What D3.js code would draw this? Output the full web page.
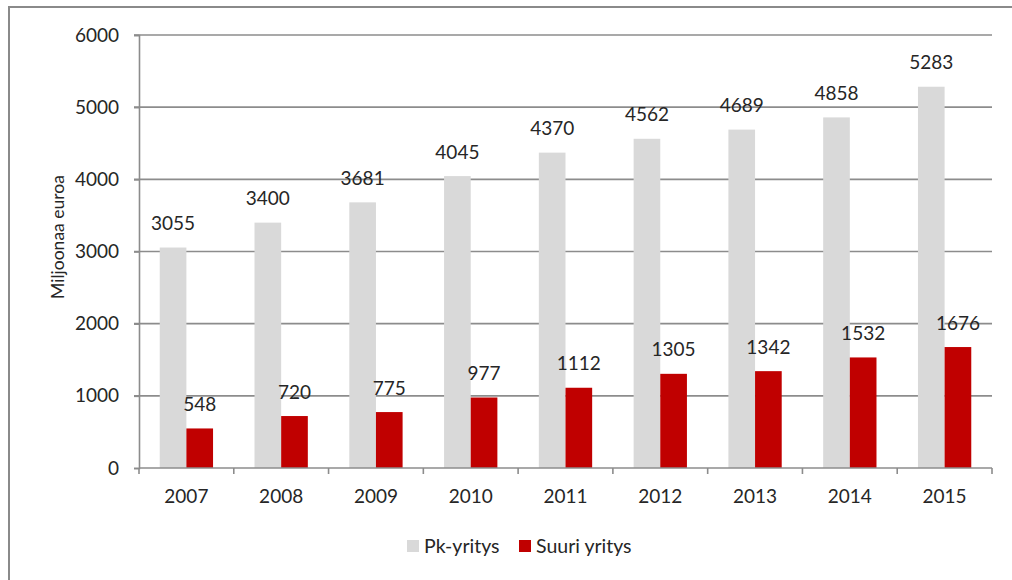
<!DOCTYPE html>
<html>
<head>
<meta charset="utf-8">
<script src="https://cdn.jsdelivr.net/npm/d3@7"></script>
<style>
  html, body { margin: 0; padding: 0; background: #fff; }
  svg text { font-family: Lato, "Open Sans", sans-serif; fill: #262626; }
</style>
</head>
<body>
<svg id="chart" width="1012" height="580"></svg>
<script>
const years = ["2007","2008","2009","2010","2011","2012","2013","2014","2015"];
const series = ["Pk-yritys", "Suuri yritys"];
const pkValues = [3055, 3400, 3681, 4045, 4370, 4562, 4689, 4858, 5283];
const suuriValues = [548, 720, 775, 977, 1112, 1305, 1342, 1532, 1676];
const yTicks = [0, 1000, 2000, 3000, 4000, 5000, 6000];
const colors = ["#d9d9d9", "#c00000"];
const yTitle = "Miljoonaa euroa";

(function () {
const svg = d3.select("#chart");
const pLeft = 139, pRight = 992, pTop = 35, pBottom = 468;
const fs = "19px";

// outer frame (cropped at right/bottom)
svg.append("rect").attr("x", 9).attr("y", 7).attr("width", 1020).attr("height", 600)
  .attr("fill", "none").attr("stroke", "#8a8a8a").attr("stroke-width", 2);

const y = d3.scaleLinear().domain([0, 6000]).range([pBottom, pTop]);
const pIn = 0.4375;
const x0 = d3.scaleBand().domain(years).range([pLeft, pRight]).paddingInner(pIn).paddingOuter(pIn / 2);
const x1 = d3.scaleBand().domain(series).range([0, x0.bandwidth()]);

// gridlines
svg.append("g").selectAll("line").data(yTicks.filter(d => d > 0)).join("line")
  .attr("x1", pLeft - 5).attr("x2", pRight)
  .attr("y1", d => y(d)).attr("y2", d => y(d))
  .attr("stroke", "#8c8c8c").attr("stroke-width", 1.6);

// y axis
const yAxis = svg.append("g").attr("transform", `translate(${pLeft},0)`)
  .call(d3.axisLeft(y).tickValues(yTicks).tickSize(5).tickPadding(15).tickFormat(d3.format("d")));
yAxis.select(".domain").attr("stroke", "#8c8c8c").attr("stroke-width", 1.6);
yAxis.selectAll(".tick line").attr("stroke", "#8c8c8c").attr("stroke-width", 1.6);
yAxis.selectAll(".tick text").style("font-size", fs).style("font-family", "Lato, sans-serif").attr("fill", "#262626");

// bars
const data = years.map((yr, i) => ({ year: yr, vals: [pkValues[i], suuriValues[i]] }));
const groups = svg.append("g").selectAll("g").data(data).join("g")
  .attr("transform", d => `translate(${x0(d.year)},0)`);
groups.selectAll("rect").data(d => d.vals.map((v, k) => ({ s: series[k], v, k }))).join("rect")
  .attr("x", d => x1(d.s)).attr("width", x1.bandwidth())
  .attr("y", d => y(d.v)).attr("height", d => y(0) - y(d.v))
  .attr("fill", d => colors[d.k]);

// x axis
const step = x0.step();
const bounds = years.map(yr => x0(yr) - step * pIn / 2).concat([pRight]);
const xg = svg.append("g");
xg.append("line").attr("x1", pLeft).attr("x2", pRight).attr("y1", pBottom).attr("y2", pBottom)
  .attr("stroke", "#8c8c8c").attr("stroke-width", 1.6);
xg.selectAll("line.t").data(bounds).join("line").attr("class", "t")
  .attr("x1", d => d).attr("x2", d => d).attr("y1", pBottom).attr("y2", pBottom + 6)
  .attr("stroke", "#8c8c8c").attr("stroke-width", 1.6);
xg.selectAll("text").data(years).join("text")
  .attr("x", d => x0(d) + x0.bandwidth() / 2).attr("y", 503)
  .attr("text-anchor", "middle").style("font-size", fs).text(d => d);

// value labels
groups.selectAll("text").data(d => d.vals.map((v, k) => ({ s: series[k], v, k }))).join("text")
  .attr("x", d => x1(d.s) + x1.bandwidth() / 2).attr("y", d => y(d.v) - 17.5)
  .attr("text-anchor", "middle").style("font-size", fs).text(d => d.v);

// y title
svg.append("text").attr("transform", `translate(64,237) rotate(-90)`)
  .attr("text-anchor", "middle").style("font-size", "17.5px").text(yTitle);

// legend
const legend = svg.append("g");
const legX = [407, 519];
series.forEach((s, k) => {
  legend.append("rect").attr("x", legX[k]).attr("y", 540).attr("width", 12).attr("height", 12).attr("fill", colors[k]);
  legend.append("text").attr("x", legX[k] + 17).attr("y", 553).style("font-size", "19.5px").text(s);
});
})();
</script>
</body>
</html>
